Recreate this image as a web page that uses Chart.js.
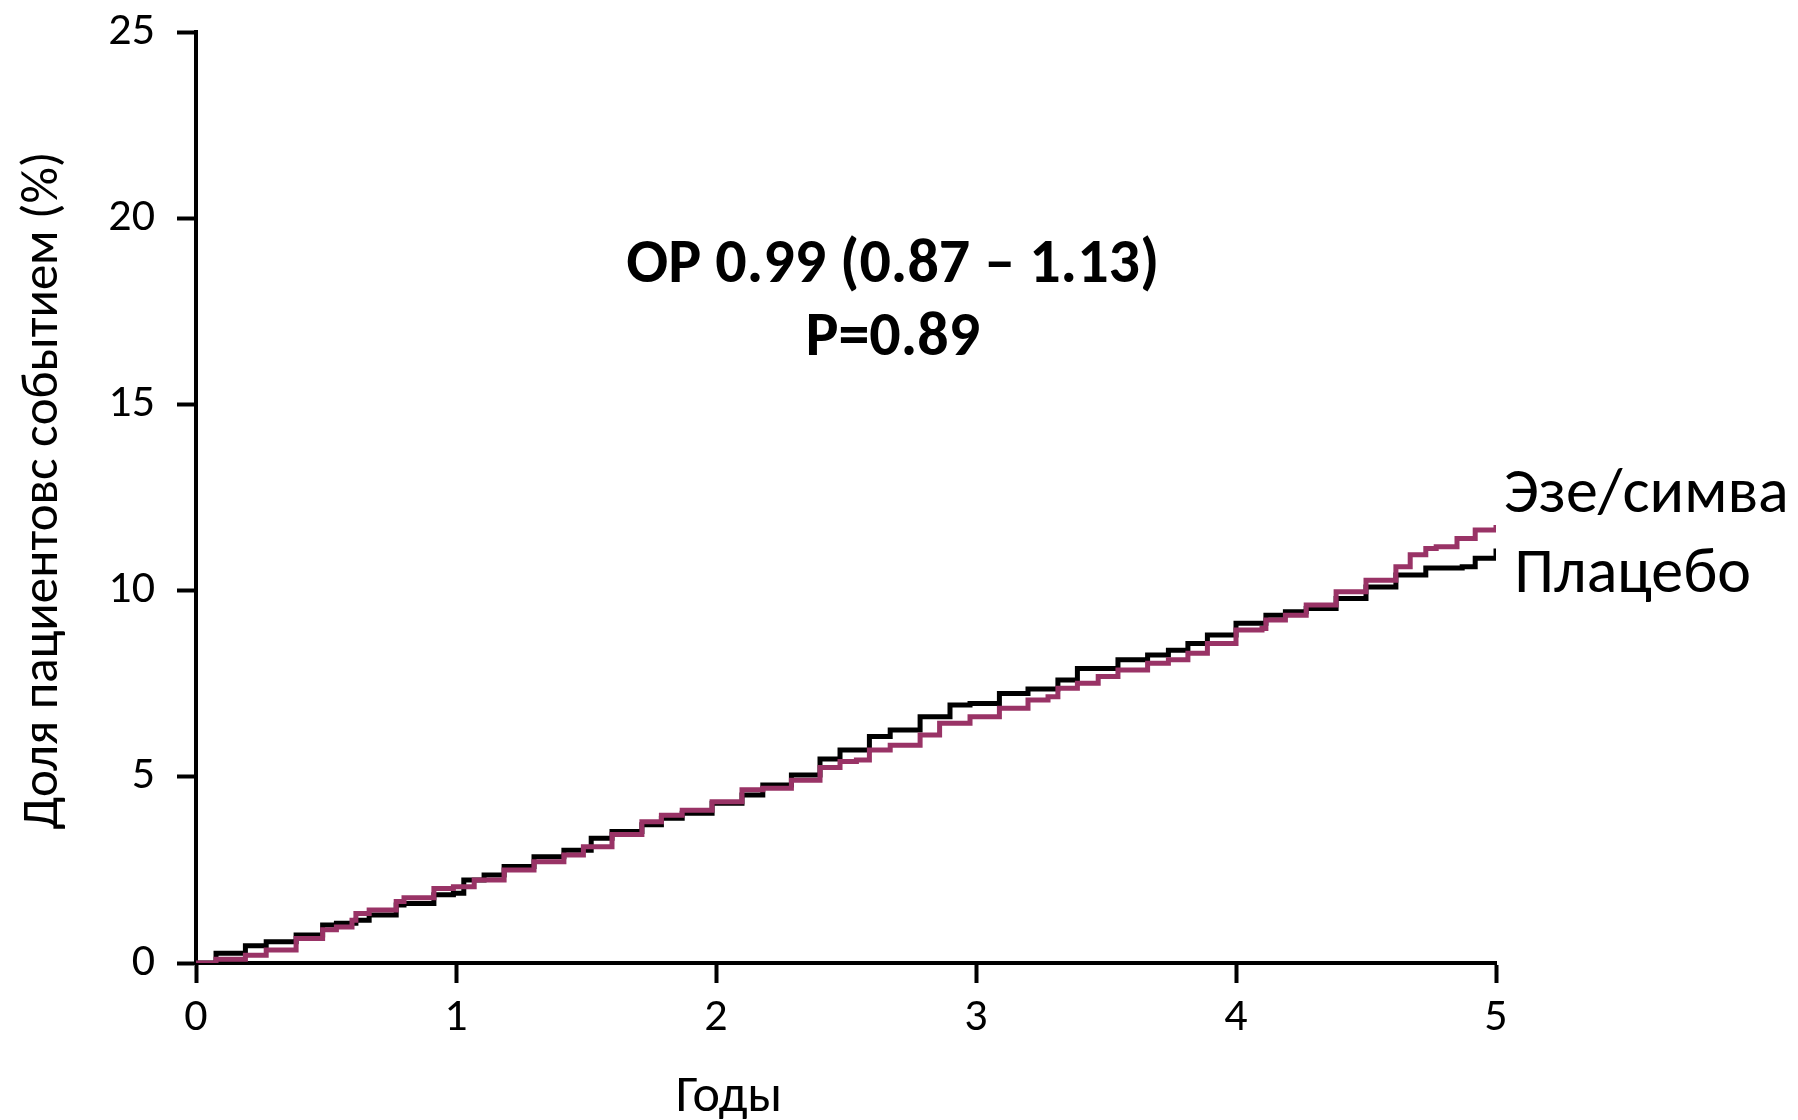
<!DOCTYPE html>
<html>
<head>
<meta charset="utf-8">
<script src="https://cdn.jsdelivr.net/npm/chart.js@4"></script>
<style>
  html, body { margin: 0; padding: 0; background: #fff; }
  #wrap { width: 1798px; height: 1120px; position: relative; }
</style>
</head>
<body>
<div id="wrap"><canvas id="kmChart" width="1798" height="1120"></canvas></div>
<script>
// years and cumulative event rate (%)
const placeboYears = [0, 0.077, 0.19, 0.27, 0.385, 0.487, 0.54, 0.615, 0.666, 0.77, 0.8, 0.915, 0.99, 1.03, 1.108, 1.185, 1.3, 1.415, 1.52, 1.6, 1.715, 1.79, 1.87, 1.985, 2.1, 2.18, 2.29, 2.4, 2.477, 2.59, 2.67, 2.785, 2.9, 2.977, 3.09, 3.2, 3.315, 3.39, 3.47, 3.546, 3.66, 3.74, 3.815, 3.89, 4.0, 4.115, 4.19, 4.27, 4.385, 4.5, 4.615, 4.73, 4.87, 4.92, 5.0];
const placeboRate = [0, 0.26, 0.46, 0.57, 0.75, 1.02, 1.07, 1.15, 1.29, 1.56, 1.6, 1.83, 1.87, 2.23, 2.36, 2.59, 2.85, 3.03, 3.35, 3.53, 3.71, 3.89, 4.02, 4.29, 4.51, 4.78, 5.05, 5.48, 5.72, 6.08, 6.26, 6.61, 6.93, 6.97, 7.24, 7.36, 7.6, 7.91, 7.91, 8.14, 8.27, 8.4, 8.58, 8.81, 9.12, 9.34, 9.43, 9.52, 9.79, 10.1, 10.42, 10.61, 10.64, 10.87, 11.13];

const ezeYears = [0, 0.077, 0.19, 0.27, 0.385, 0.487, 0.54, 0.6, 0.615, 0.666, 0.77, 0.8, 0.915, 0.99, 1.07, 1.185, 1.3, 1.415, 1.49, 1.6, 1.715, 1.79, 1.87, 1.985, 2.1, 2.18, 2.29, 2.4, 2.477, 2.54, 2.59, 2.67, 2.785, 2.86, 2.977, 3.09, 3.2, 3.277, 3.315, 3.39, 3.47, 3.546, 3.66, 3.74, 3.815, 3.89, 4.0, 4.1, 4.115, 4.19, 4.27, 4.385, 4.5, 4.615, 4.67, 4.73, 4.77, 4.85, 4.92, 5.0];
const ezeRate = [0, 0.1, 0.21, 0.35, 0.66, 0.89, 0.97, 1.15, 1.33, 1.42, 1.65, 1.75, 2.0, 2.05, 2.23, 2.5, 2.72, 2.9, 3.12, 3.45, 3.79, 3.97, 4.1, 4.33, 4.65, 4.69, 4.91, 5.25, 5.41, 5.45, 5.72, 5.85, 6.12, 6.44, 6.61, 6.84, 7.06, 7.15, 7.38, 7.51, 7.69, 7.87, 8.05, 8.14, 8.32, 8.58, 8.94, 8.98, 9.21, 9.34, 9.61, 9.97, 10.28, 10.64, 10.96, 11.13, 11.18, 11.4, 11.63, 11.76];

const yTicks = [0, 5, 10, 15, 20, 25];
const xTicks = [0, 1, 2, 3, 4, 5];

const FONT = "Carlito, Lato, 'Open Sans', sans-serif";

function toPoints(xs, ys) {
    return xs.map((x, i) => ({ x: x, y: ys[i] }));
}

const textPlugin = {
    id: "textPlugin",
    afterDraw(chart) {
        const ctx = chart.ctx;
        const xs = chart.scales.x;
        const ys = chart.scales.y;
        ctx.save();
        ctx.fillStyle = "#000";

        // y axis title
        ctx.save();
        ctx.translate(44, (ys.top + ys.bottom) / 2 - 7);
        ctx.rotate(-Math.PI / 2);
        ctx.font = `51px ${FONT}`;
        ctx.textAlign = "center";
        ctx.textBaseline = "middle";
        ctx.fillText("Доля пациентовс событием (%)", 0, 0);
        ctx.restore();

        // x axis title
        ctx.font = `52px ${FONT}`;
        ctx.textAlign = "center";
        ctx.textBaseline = "middle";
        ctx.fillText("Годы", xs.getPixelForValue(2.05), 1098);

        // hazard ratio annotation
        ctx.font = `bold 62px ${FONT}`;
        ctx.fillText("OP 0.99 (0.87 – 1.13)", xs.getPixelForValue(2.68), ys.getPixelForValue(18.7));
        ctx.fillText("P=0.89", xs.getPixelForValue(2.68), ys.getPixelForValue(16.75));

        // series labels
        ctx.font = `64px ${FONT}`;
        ctx.textAlign = "left";
        ctx.fillText("Эзе/симва", xs.getPixelForValue(5.03), ys.getPixelForValue(12.55));
        ctx.fillText("Плацебо", xs.getPixelForValue(5.07), ys.getPixelForValue(10.38));
        ctx.restore();
    }
};

const ctx = document.getElementById("kmChart").getContext("2d");
new Chart(ctx, {
    type: "line",
    data: {
        datasets: [
            {
                label: "Эзе/симва",
                data: toPoints(ezeYears, ezeRate),
                borderColor: "#993366",
                borderWidth: 5,
                stepped: true,
                pointRadius: 0,
                fill: false
            },
            {
                label: "Плацебо",
                data: toPoints(placeboYears, placeboRate),
                borderColor: "#000000",
                borderWidth: 5,
                stepped: true,
                pointRadius: 0,
                fill: false
            }
        ]
    },
    options: {
        responsive: false,
        animation: false,
        layout: { padding: { left: 0, right: 302, top: 32, bottom: 0 } },
        plugins: {
            legend: { display: false },
            tooltip: { enabled: false }
        },
        scales: {
            x: {
                type: "linear",
                min: 0,
                max: 5,
                afterFit(scale) {
                    scale.height = 157;
                    scale.paddingLeft = 0;
                    scale.paddingRight = 0;
                },
                afterBuildTicks(scale) { scale.ticks = xTicks.map(v => ({ value: v })); },
                border: { display: true, color: "#000", width: 4 },
                grid: { drawOnChartArea: false, drawTicks: true, tickLength: 20, tickWidth: 4, tickColor: "#000" },
                ticks: {
                    color: "#000",
                    font: { family: FONT, size: 46 },
                    padding: 8,
                    maxRotation: 0
                }
            },
            y: {
                type: "linear",
                min: 0,
                max: 25,
                afterFit(scale) {
                    scale.width = 196;
                    scale.paddingTop = 0;
                    scale.paddingBottom = 0;
                },
                afterBuildTicks(scale) { scale.ticks = yTicks.map(v => ({ value: v })); },
                border: { display: true, color: "#000", width: 4 },
                grid: { drawOnChartArea: false, drawTicks: true, tickLength: 19, tickWidth: 4, tickColor: "#000" },
                ticks: {
                    color: "#000",
                    font: { family: FONT, size: 46 },
                    padding: 22
                }
            }
        }
    },
    plugins: [textPlugin]
});
</script>
</body>
</html>
